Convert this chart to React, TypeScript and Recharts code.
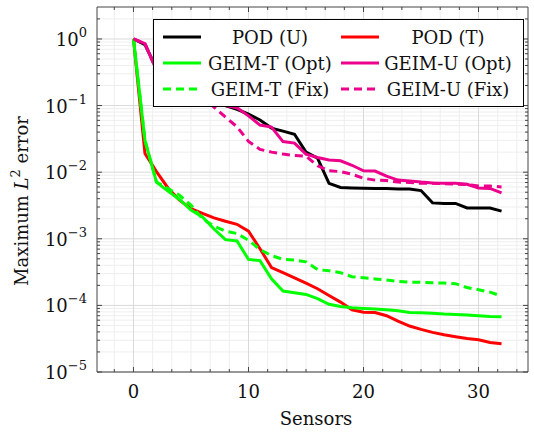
import React from "react";
import { LineChart, Line, XAxis, YAxis, CartesianGrid, Legend } from "recharts";

// number of sensors on the x axis
const sensors = [
  0, 1, 2, 3, 4, 5, 6, 7, 8, 9, 10, 11, 12, 13, 14, 15, 16, 17, 18, 19, 20,
  21, 22, 23, 24, 25, 26, 27, 28, 29, 30, 31, 32,
];

// maximum L2 error
const podU = [
  1.0, 0.82, 0.36, 0.27, 0.22, 0.18, 0.15, 0.125, 0.1, 0.088, 0.0745, 0.0607,
  0.0459, 0.0414, 0.0372, 0.02, 0.0163, 0.0068, 0.0059, 0.0058, 0.00575,
  0.0057, 0.0057, 0.0056, 0.0056, 0.0053, 0.00346, 0.0034, 0.0034, 0.0029,
  0.0029, 0.0029, 0.0026,
];
const podT = [
  1.0, 0.019, 0.0102, 0.0058, 0.0038, 0.00284, 0.0024, 0.00206, 0.00183,
  0.00165, 0.0013, 0.00071, 0.00037, 0.00031, 0.00026, 0.000216, 0.000178,
  0.000141, 0.000112, 8.6e-5, 7.9e-5, 7.8e-5, 7.0e-5, 5.8e-5, 4.9e-5, 4.36e-5,
  3.93e-5, 3.63e-5, 3.39e-5, 3.19e-5, 3.05e-5, 2.78e-5, 2.65e-5,
];
const geimTOpt = [
  1.0, 0.03, 0.0071, 0.0052, 0.0039, 0.0027, 0.00213, 0.0014, 0.00097,
  0.00093, 0.00049, 0.00047, 0.00025, 0.000164, 0.000155, 0.000146, 0.000126,
  0.000104, 9.6e-5, 9.2e-5, 9.0e-5, 8.8e-5, 8.6e-5, 8.3e-5, 7.85e-5, 7.75e-5,
  7.6e-5, 7.4e-5, 7.3e-5, 7.2e-5, 7.0e-5, 6.8e-5, 6.75e-5,
];
const geimUOpt = [
  1.0, 0.85, 0.34, 0.27, 0.22, 0.18, 0.15, 0.12, 0.1, 0.093, 0.07, 0.051,
  0.0475, 0.0288, 0.0273, 0.0187, 0.0166, 0.0152, 0.0148, 0.0127, 0.0105,
  0.0104, 0.0087, 0.0076, 0.0074, 0.0071, 0.0069, 0.0068, 0.0068, 0.0066,
  0.0058, 0.0057, 0.0049,
];
const geimTFix = [
  1.0, 0.03, 0.0071, 0.0057, 0.0045, 0.0032, 0.002, 0.00155, 0.0013, 0.0012,
  0.00095, 0.00069, 0.00056, 0.00049, 0.00048, 0.00045, 0.000345, 0.00033,
  0.00031, 0.00027, 0.00026, 0.00025, 0.00024, 0.00023, 0.000224, 0.000222,
  0.000219, 0.000216, 0.000212, 0.000185, 0.000172, 0.000158, 0.000138,
];
const geimUFix = [
  1.0, 0.85, 0.34, 0.26, 0.2, 0.16, 0.125, 0.095, 0.067, 0.048, 0.029, 0.022,
  0.02, 0.0187, 0.0178, 0.0174, 0.0125, 0.0105, 0.0102, 0.0093, 0.0081,
  0.0076, 0.0075, 0.0071, 0.007, 0.0068, 0.0068, 0.0067, 0.0066, 0.0065,
  0.0062, 0.0062, 0.006,
];

const xMajorTicks = [0, 10, 20, 30];
const xMinorTicks = [
  -1.667, 1.667, 3.333, 5, 6.667, 8.333, 11.667, 13.333, 15, 16.667, 18.333,
  21.667, 23.333, 25, 26.667, 28.333, 31.667, 33.333,
];
const yDecades = [1e-5, 1e-4, 1e-3, 1e-2, 1e-1, 1];
const yExponents = ["\u22125", "\u22124", "\u22123", "\u22122", "\u22121", "0"];
const yMantissas = [2, 3, 4, 5, 6, 7, 8, 9];

const yMinorTicks = [...yDecades.slice(0, 5).flatMap((d) => yMantissas.map((m) => m * d)), 2];
const xAllTicks = [...xMajorTicks, ...xMinorTicks];
const yAllTicks = [...yDecades, ...yMinorTicks];

const series = [
  { key: "podU", name: "POD (U)", color: "#000000", dash: undefined },
  { key: "podT", name: "POD (T)", color: "#ff0000", dash: undefined },
  { key: "geimTOpt", name: "GEIM-T (Opt)", color: "#00ff00", dash: undefined },
  { key: "geimUOpt", name: "GEIM-U (Opt)", color: "#ec008c", dash: undefined },
  { key: "geimTFix", name: "GEIM-T (Fix)", color: "#00ff00", dash: "8 5" },
  { key: "geimUFix", name: "GEIM-U (Fix)", color: "#ec008c", dash: "8 5" },
];

const data = sensors.map((n, i) => ({
  n,
  podU: podU[i],
  podT: podT[i],
  geimTOpt: geimTOpt[i],
  geimUOpt: geimUOpt[i],
  geimTFix: geimTFix[i],
  geimUFix: geimUFix[i],
}));

const FONT = "'DejaVu Serif', serif";
const FS = 18;
const SUP = 13;
const AXIS = "#444";

const decadeIndex = (v: number) =>
  yDecades.findIndex((d) => Math.abs(Math.log10(d) - Math.log10(v)) < 1e-6);

const BottomTick = ({ x, y, payload }: any) => {
  const major = xMajorTicks.includes(payload.value);
  return (
    <g>
      <line x1={x} y1={y} x2={x} y2={y - (major ? 5 : 3)} stroke={AXIS} />
      {major && (
        <text x={x} y={y + 26} textAnchor="middle" fontSize={FS} fontFamily={FONT} fill="#111">
          {payload.value}
        </text>
      )}
    </g>
  );
};

const TopTick = ({ x, y, payload }: any) => {
  const major = xMajorTicks.includes(payload.value);
  return <line x1={x} y1={y} x2={x} y2={y + (major ? 5 : 3)} stroke={AXIS} />;
};

const LeftTick = ({ x, y, payload }: any) => {
  const idx = decadeIndex(payload.value);
  const major = idx >= 0;
  return (
    <g>
      <line x1={x} y1={y} x2={x + (major ? 5 : 3)} y2={y} stroke={AXIS} />
      {major && (
        <text x={x - 10} y={y + 7} textAnchor="end" fontSize={FS} fontFamily={FONT} fill="#111">
          <tspan>10</tspan>
          <tspan fontSize={SUP} dy={-9}>
            {yExponents[idx]}
          </tspan>
        </text>
      )}
    </g>
  );
};

const RightTick = ({ x, y, payload }: any) => {
  const major = decadeIndex(payload.value) >= 0;
  return <line x1={x} y1={y} x2={x - (major ? 5 : 3)} y2={y} stroke={AXIS} />;
};

const legendRows = [
  [series[0], series[1]],
  [series[2], series[3]],
  [series[4], series[5]],
];

const renderLegend = () => (
  <div
    style={{
      width: 371,
      height: 88,
      boxSizing: "border-box",
      border: "1.3px solid #000",
      background: "#fff",
      padding: "4px 0 0 9px",
      fontFamily: FONT,
      fontSize: FS,
      color: "#111",
    }}
  >
    {legendRows.map((row, r) => (
      <div key={r} style={{ display: "flex", alignItems: "center", height: 26 }}>
        {row.map((s) => (
          <React.Fragment key={s.key}>
            <svg width={38} height={6} style={{ display: "block" }}>
              <line x1={0} y1={3} x2={38} y2={3} stroke={s.color} strokeWidth={3} strokeDasharray={s.dash} />
            </svg>
            <span style={{ width: 130, textAlign: "center", marginLeft: 4, marginRight: 6, whiteSpace: "nowrap" }}>
              {s.name}
            </span>
          </React.Fragment>
        ))}
      </div>
    ))}
  </div>
);

export default function App() {
  return (
    <div style={{ position: "fixed", left: 0, top: 0, background: "#fff" }}>
      <LineChart width={534} height={432} data={data} margin={{ top: 6, right: 5, bottom: 0, left: 0 }}>
        <CartesianGrid horizontalValues={yMinorTicks} verticalValues={xMinorTicks} stroke="#eeeeee" />
        <CartesianGrid horizontalValues={yDecades} verticalValues={xMajorTicks} stroke="#d9d9d9" />
        <XAxis
          dataKey="n"
          type="number"
          domain={[-3.17, 34.3]}
          allowDataOverflow
          ticks={xAllTicks}
          interval={0}
          height={60}
          tickSize={0}
          tickMargin={0}
          tickLine={false}
          axisLine={{ stroke: AXIS }}
          tick={BottomTick}
        />
        <XAxis
          xAxisId="top"
          orientation="top"
          dataKey="n"
          type="number"
          domain={[-3.17, 34.3]}
          allowDataOverflow
          ticks={xAllTicks}
          interval={0}
          height={1}
          tickSize={0}
          tickMargin={0}
          tickLine={false}
          axisLine={{ stroke: AXIS }}
          tick={TopTick}
        />
        <YAxis
          type="number"
          scale="log"
          domain={[1e-5, 3.02]}
          allowDataOverflow
          ticks={yAllTicks}
          interval={0}
          width={97}
          tickSize={0}
          tickMargin={0}
          tickLine={false}
          axisLine={{ stroke: AXIS }}
          tick={LeftTick}
        />
        <YAxis
          yAxisId="right"
          orientation="right"
          type="number"
          scale="log"
          domain={[1e-5, 3.02]}
          allowDataOverflow
          ticks={yAllTicks}
          interval={0}
          width={1}
          tickSize={0}
          tickMargin={0}
          tickLine={false}
          axisLine={{ stroke: AXIS }}
          tick={RightTick}
        />
        {series.map((s) => (
          <Line
            key={s.key}
            type="linear"
            dataKey={s.key}
            name={s.name}
            stroke={s.color}
            strokeWidth={3}
            strokeDasharray={s.dash}
            dot={false}
            activeDot={false}
            isAnimationActive={false}
          />
        ))}
        <Legend
          layout="horizontal"
          verticalAlign="middle"
          align="center"
          content={renderLegend}
          wrapperStyle={{ left: 153, top: 19, width: 371, height: 88 }}
        />
        <text
          x={28}
          y={201}
          transform="rotate(-90, 28, 201)"
          textAnchor="middle"
          fontSize={FS}
          fontFamily={FONT}
          fill="#111"
        >
          Maximum <tspan fontStyle="italic">L</tspan>
          <tspan fontSize={SUP} dy={-8}>2</tspan>
          <tspan dy={8}> error</tspan>
        </text>
        <text x={316} y={425} textAnchor="middle" fontSize={FS} fontFamily={FONT} fill="#111">
          Sensors
        </text>
      </LineChart>
    </div>
  );
}
